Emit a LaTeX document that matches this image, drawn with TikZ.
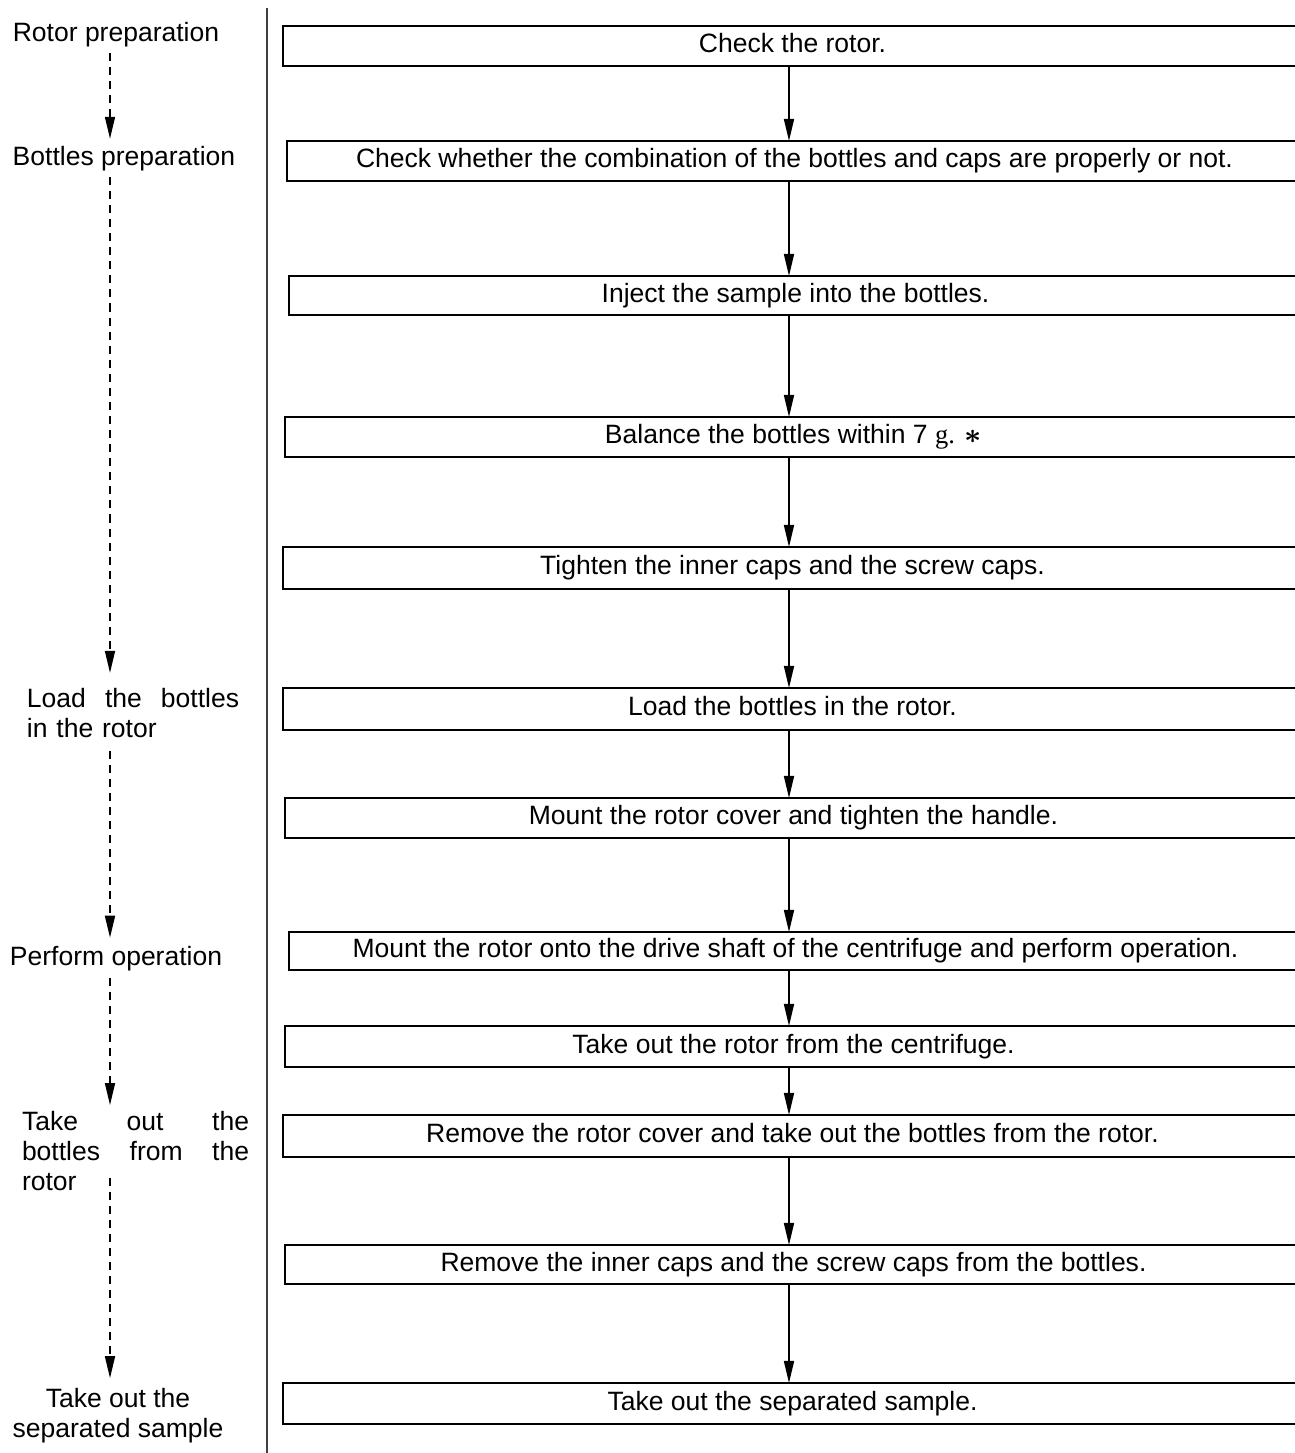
\documentclass[tikz,border=0pt]{standalone}
\usepackage{fontspec}
\setmainfont{Liberation Sans}
\newfontfamily\gfont{Liberation Serif}
\usetikzlibrary{arrows.meta}
\tikzset{every node/.style={inner sep=0pt,outer sep=0pt}}
\tikzset{box/.style={rectangle,draw,line width=0.55pt,text height=1.9mm,text depth=0.55mm}}
\tikzset{lbl/.style={rectangle}}
\tikzset{flow/.style={line width=0.45pt,-{Triangle[length=0.22cm,width=0.1cm]}}}
\tikzset{back/.style={flow,dash pattern=on 2.3pt off 1.7pt}}

\begin{document}
\begin{tikzpicture}[x=0.01cm,y=-0.01cm,font=\fontsize{7.54}{8.54}\selectfont]
      \useasboundingbox (0,0) rectangle (1295,1453);
      \clip (0,0) rectangle (1295,1453);
      % steps
      \node[box,minimum width=10.19cm,minimum height=0.40cm] (check) at (792.5,46) {Check the rotor.};
      \node[box,minimum width=10.15cm,minimum height=0.40cm] (combo) at (794.5,161) {Check whether the combination of the bottles and caps are properly or not.};
      \node[box,minimum width=10.13cm,minimum height=0.39cm] (inject) at (795.5,295.5) {Inject the sample into the bottles.};
      \node[box,minimum width=10.17cm,minimum height=0.40cm] (balance) at (793.5,437) {Balance the bottles within 7 {\gfont g.} {\boldmath$\ast$}};
      \node[box,minimum width=10.19cm,minimum height=0.42cm] (tighten) at (792.5,568) {Tighten the inner caps and the screw caps.};
      \node[box,minimum width=10.19cm,minimum height=0.42cm] (load) at (792.5,709) {Load the bottles in the rotor.};
      \node[box,minimum width=10.17cm,minimum height=0.40cm] (cover) at (793.5,818) {Mount the rotor cover and tighten the handle.};
      \node[box,minimum width=10.13cm,minimum height=0.38cm] (run) at (795.5,951) {Mount the rotor onto the drive shaft of the centrifuge and perform operation.};
      \node[box,minimum width=10.17cm,minimum height=0.41cm] (takerotor) at (793.5,1046.5) {Take out the rotor from the centrifuge.};
      \node[box,minimum width=10.19cm,minimum height=0.42cm] (remove) at (792.5,1136) {Remove the rotor cover and take out the bottles from the rotor.};
      \node[box,minimum width=10.17cm,minimum height=0.39cm] (uncap) at (793.5,1264.5) {Remove the inner caps and the screw caps from the bottles.};
      \node[box,minimum width=10.19cm,minimum height=0.41cm] (sample) at (792.5,1403.5) {Take out the separated sample.};
      \coordinate (ax) at (789,0);
        \draw[flow] (check.south -| ax) -- (combo.north -| ax);
        \draw[flow] (combo.south -| ax) -- (inject.north -| ax);
        \draw[flow] (inject.south -| ax) -- (balance.north -| ax);
        \draw[flow] (balance.south -| ax) -- (tighten.north -| ax);
        \draw[flow] (tighten.south -| ax) -- (load.north -| ax);
        \draw[flow] (load.south -| ax) -- (cover.north -| ax);
        \draw[flow] (cover.south -| ax) -- (run.north -| ax);
        \draw[flow] (run.south -| ax) -- (takerotor.north -| ax);
        \draw[flow] (takerotor.south -| ax) -- (remove.north -| ax);
        \draw[flow] (remove.south -| ax) -- (uncap.north -| ax);
        \draw[flow] (uncap.south -| ax) -- (sample.north -| ax);
      % stages
      \node[lbl,anchor=base] (rotorprep) at (116,41) {Rotor preparation};
      \node[lbl,anchor=base] (bottleprep) at (124,165) {Bottles preparation};
      \node[lbl,anchor=north west,text width=2.12cm,align=left] (loadl) at (27,688) {Load\hfill the\hfill bottles\\in the rotor};
      \node[lbl,anchor=base] (perform) at (116,965) {Perform operation};
      \node[lbl,anchor=north west,text width=2.27cm,align=left] (takebottles) at (22,1111) {Take\hfill out\hfill the\\bottles\hfill from\hfill the\\rotor};
      \node[lbl,anchor=north,align=center] (takesample) at (118,1388) {Take out the\\separated sample};
      \coordinate (dx) at (110,0);
        \draw[back,shorten <=1.8pt,shorten >=2pt] (rotorprep.south -| dx) -- (bottleprep.north -| dx);
        \draw[back,shorten <=1.8pt,shorten >=4.3pt] (bottleprep.south -| dx) -- (loadl.north -| dx);
        \draw[back,shorten <=3.7pt,shorten >=2.3pt] (loadl.south -| dx) -- (perform.north -| dx);
        \draw[back,shorten <=2pt,shorten >=1.7pt] (perform.south -| dx) -- (takebottles.north -| dx);
        \draw[back,shorten <=-3.7pt,shorten >=2.8pt] (takebottles.south -| dx) -- (takesample.north -| dx);
      \coordinate (septop) at (267,8);
      \coordinate (sepbot) at (267,1453);
      \draw[line width=0.55pt,black!75] (septop) -- (sepbot);
\end{tikzpicture}
\end{document}
